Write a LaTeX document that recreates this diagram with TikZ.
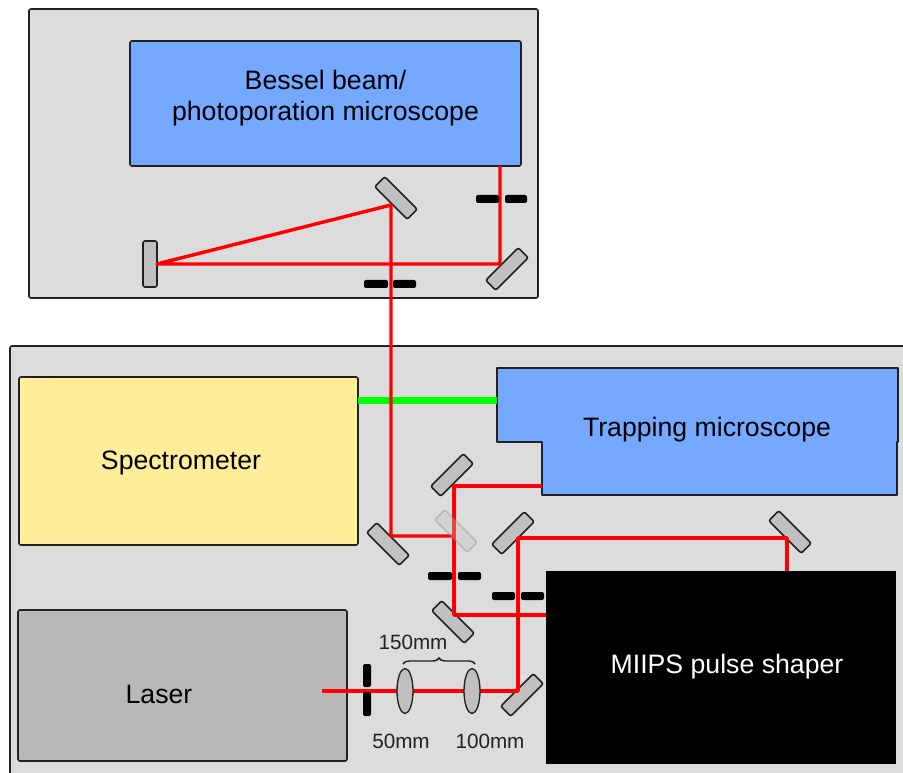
\documentclass[tikz,border=0pt]{standalone}
\usepackage{fontspec}
\setmainfont{Liberation Sans}
\usetikzlibrary{decorations.pathreplacing,shapes.geometric}
\definecolor{ctPanel}{HTML}{DCDCDC}
\definecolor{ctBlue}{HTML}{75A9FF}
\definecolor{ctYellow}{HTML}{FFEE99}
\definecolor{ctLaser}{HTML}{B8B8B8}
\definecolor{ctOptic}{HTML}{C0C0C0}
\definecolor{ctEdge}{HTML}{222222}
\tikzset{
  sized/.style 2 args={minimum width=#1*0.75pt,minimum height=#2*0.75pt,inner sep=0pt},
  panel/.style={draw=ctEdge,line width=1.2pt,rounded corners=1.5pt,align=center},
  mirror/.style={panel,fill=ctOptic,sized={46}{14}},
  lens/.style={draw=ctEdge,line width=1pt,fill=ctOptic,ellipse,sized={16}{45}},
  bar/.style={fill=black,rounded corners=1.5pt,inner sep=0pt},
  beam/.style={red,line width=2.6pt,line join=round},
  label/.style={font=\fontsize{15.5}{18}\selectfont,text=ctEdge}
}
\begin{document}
\begin{tikzpicture}[x=0.75pt,y=-0.75pt,font=\fontsize{20}{23.2}\selectfont]
  \useasboundingbox (0,0) rectangle (903,773);
  \clip (0,0) rectangle (903,773);
  \node[panel,fill=ctPanel,sized={509}{289}] (upper) at (283.5,153.5) {};
  \node[panel,fill=ctPanel,sized={920}{450}] (lower) at (470,571) {};
  \node[panel,fill=ctBlue,sized={391}{125}] (bessel) at (325.5,103.5) {};
  \node[align=center] (besseltext) at (325.5,98.5) {Bessel beam/\\photoporation microscope};
  \node[panel,fill=ctYellow,sized={339}{168}] (spectro) at (188.5,461) {};
  \node (spectrotext) at (181,463) {Spectrometer};
  \node[panel,fill=ctLaser,sized={329}{151}] (laser) at (182.5,685.5) {};
  \node (lasertext) at (159,694) {Laser};
  \node[fill=black,sized={350}{193}] (miips) at (721,667.5) {};
  \node[text=white] (miipstext) at (727,667) {MIIPS pulse shaper};
  \draw[panel,fill=ctBlue,sharp corners,line join=round] (497,368) -- (898,368) -- (898,442) -- (897,442) -- (897,495)
    -- (542,495) -- (542,442) -- (497,442) -- cycle;
  \node (trapping) at (707,430) {Trapping microscope};

  \foreach \nm/\xx/\yy/\rr in {mA/396/198/-45,mB/507/269/45,mC/150/264/90,mD/452/475/45,
      mE/513/533/45,mF/388/544/-45,mG/453/622/-45,mH/790/532/-45,mI/522/695/45}{
    \node[mirror,rotate=\rr] (\nm) at (\xx,\yy) {};}

  \foreach \nm/\xx/\yy in {pA/500/166,pB/500/264,pC/157/264,pD/391/205,pE/391/536,
      pF/454/536,pG/454/486,pH/542/486,pI/454/615,pJ/546/615,pK/322/691,pL/518/691,
      pM/518/538,pN/787/538,pO/787/571,pP/358/400.5,pQ/497/400.5,pR/403/664,pS/475/664}{
    \coordinate (\nm) at (\xx,\yy);}

  \draw[green,line width=4.8pt] (pP) -- (pQ);
  \draw[beam] (pA) -- (pB) -- (pC) -- (pD) -- (pE) -- (pF);
  \draw[beam] (pJ) -- (pI) -- (pG) -- (pH);
  \draw[beam] (pK) -- (pL) -- (pM) -- (pN) -- (pO);

  \node[mirror,rotate=-45,opacity=0.35,draw=gray] (mGhost) at (456,531) {};

  \foreach \nm/\xa/\xb/\yy in {bA/476/499/199,bB/505/527/199,bC/364/388/284,bD/393/416/284,
      bE/428/452/576,bF/458/481/576,bG/492/515/596,bH/521/544/596}{
    \fill[bar] (\xa,\yy-4) rectangle (\xb,\yy+4);
    \coordinate (\nm) at (\xa,\yy);}
  \fill[bar] (363,664) rectangle (371,687);
  \fill[bar] (363,692) rectangle (371,716);

  \node[lens] (lensA) at (405,691) {};
  \node[lens] (lensB) at (472,691) {};
  \draw[decorate,decoration={brace,amplitude=4.5pt},ctEdge,line width=1.1pt] (pR) -- (pS);
  \node[label] (focalC) at (413,642) {150mm};
  \node[label] (focalA) at (401,741) {50mm};
  \node[label] (focalB) at (490,741) {100mm};
\end{tikzpicture}
\end{document}
